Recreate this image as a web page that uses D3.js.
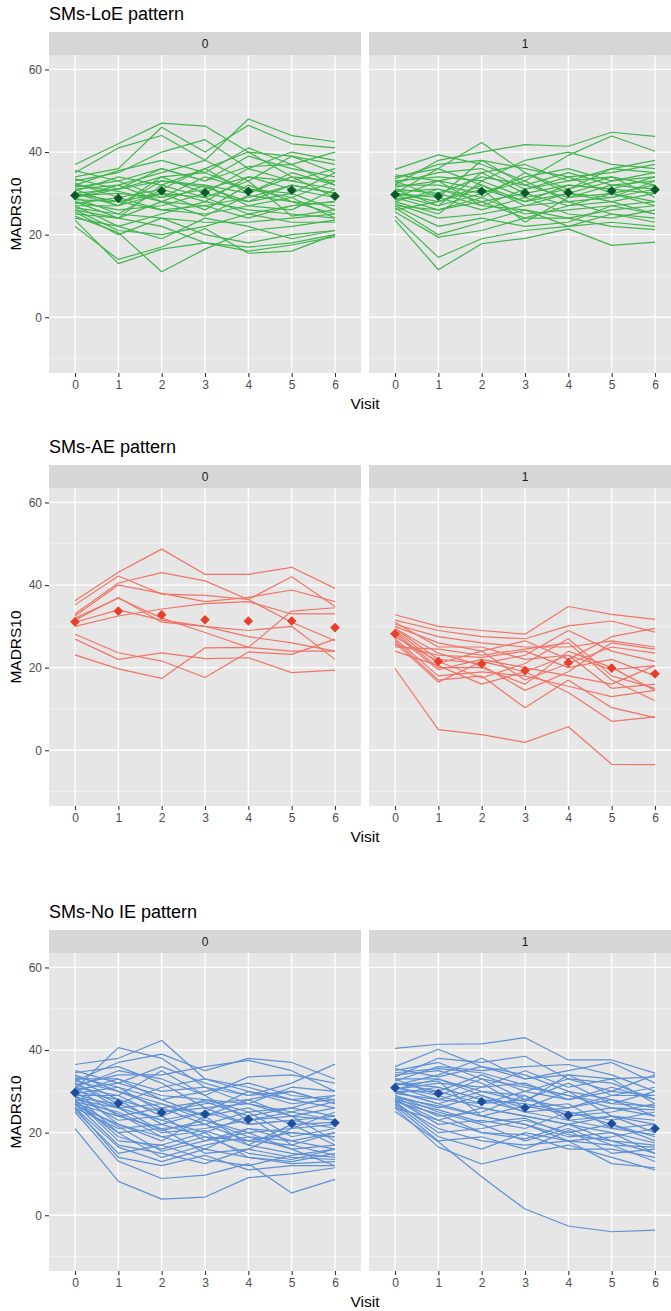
<!DOCTYPE html>
<html>
<head>
<meta charset="utf-8">
<script src="https://cdn.jsdelivr.net/npm/d3@7/dist/d3.min.js"></script>
<style>
  html, body { margin: 0; padding: 0; background: #ffffff; }
  svg { display: block; font-family: "Liberation Sans", Arial, Helvetica, sans-serif; }
</style>
</head>
<body>
<svg id="chart" width="671" height="1311"></svg>
<script>
// Visits on the x axis and the facet labels
const visits = [0, 1, 2, 3, 4, 5, 6];
const facetLabels = ["0", "1"];
const yTicks = [0, 20, 40, 60];
const yMinorTicks = [-10, 10, 30, 50];
const sectionTitles = ["SMs-LoE pattern", "SMs-AE pattern", "SMs-No IE pattern"];

// MADRS10 trajectories per subject, one row per subject (visits 0..6)
const loeGroup0 = [
  [37, 42, 47, 46.3, 40, 39, 35],
  [35, 41, 44, 38, 48, 44, 42.5],
  [34, 36, 46, 40, 46.5, 42, 41],
  [33, 35, 40, 43, 36, 40, 38],
  [32, 35.5, 38, 35, 41, 37, 40],
  [31.5, 33, 36, 33, 39, 36, 34],
  [31, 32, 35, 38, 33, 39, 37],
  [30.5, 34, 32, 36, 40, 34, 33],
  [30, 31, 34, 30, 36, 33, 31],
  [30, 27, 33, 32, 30, 35, 32],
  [29.5, 30, 29, 34, 31, 30, 35],
  [29, 25, 31, 28, 34, 31, 29],
  [29, 32, 28, 27, 29, 32, 30],
  [28.5, 28, 30, 26, 32, 28, 27],
  [28, 26, 27, 30, 28, 30, 26],
  [28, 24, 32, 29, 25, 27, 28],
  [27.5, 29, 26, 25, 27, 26, 31],
  [27, 22, 25, 28, 26, 25, 24],
  [26.5, 25, 24, 23, 23, 24, 25],
  [26, 21, 20, 22, 25, 23, 23],
  [25.5, 20, 24, 20, 18, 20, 21],
  [25, 24, 22, 18, 17, 18, 20],
  [24.5, 20.5, 11, 16.5, 21, 22, 23.5],
  [23.5, 13, 16.5, 18, 16, 17.5, 19.5],
  [22, 14, 17, 21.5, 15.5, 16, 20],
  [32, 30.5, 28, 32, 27, 29, 24],
  [31, 27, 30, 29, 33, 24.5, 26],
  [33.5, 31, 33, 31.5, 28, 32, 30],
  [30, 28, 26, 27, 24, 27, 28],
  [27, 27, 34, 35, 31, 29, 33],
  [29, 31, 36, 33, 36.5, 37, 32],
  [26, 24, 28, 24.5, 29.5, 28, 25],
  [35.5, 33, 29, 31, 34, 33, 36],
  [24, 22, 19, 24, 22, 19, 21],
  [32.5, 29, 31, 36, 30, 34, 29]
];
const loeGroup1 = [
  [32, 38, 40, 41.8, 41.4, 44.8, 43.8],
  [35.8, 39.3, 37, 33, 39.2, 43.9, 40.2],
  [34, 36, 42.3, 35, 31, 36, 38],
  [33.5, 37, 38, 36, 34, 35, 37],
  [33, 34, 33, 38, 40, 37, 36],
  [32.5, 35, 36, 31, 33, 34, 32],
  [32, 32, 30, 34, 36, 33, 35],
  [31.5, 33, 31, 28, 32, 31, 34],
  [31, 30, 34, 32, 29, 32, 33],
  [30.5, 31, 28, 30, 27, 30, 32],
  [30, 28, 32, 27, 30, 28, 30],
  [30, 29, 26, 29, 31, 34, 29],
  [29.5, 27, 30, 33, 28, 29, 31],
  [29, 26, 29, 25, 26, 27, 28],
  [28.5, 30, 27, 26, 24, 26, 27],
  [28, 25, 33, 29, 25, 24, 26],
  [27.5, 24, 25, 27, 28, 25, 24],
  [27, 22, 24, 22, 23, 27, 25],
  [26.5, 20, 23, 26, 22, 23, 22],
  [25.5, 19.4, 21, 24, 24, 22, 21.2],
  [24.5, 14.5, 19, 21, 22, 25, 23],
  [23.5, 11.5, 17.8, 19.1, 21.4, 17.4, 18.2],
  [26, 28, 31, 23, 29, 30, 27],
  [29, 33, 27, 31, 34, 30, 28],
  [31, 27, 35, 30, 32, 31, 30],
  [28, 31, 29, 35, 30, 29, 33],
  [33, 29, 38, 32, 35, 32, 31],
  [30, 36, 32, 28, 30, 33, 34],
  [27, 26, 28, 24, 27, 28, 25],
  [34.5, 33, 35, 37, 33, 36, 35]
];
const loeMean0 = [29.5, 28.8, 30.6, 30.2, 30.5, 30.8, 29.3];
const loeMean1 = [29.7, 29.3, 30.5, 30.1, 30.2, 30.6, 30.9];

const aeGroup0 = [
  [36.2, 43.1, 48.7, 42.6, 42.6, 44.3, 39.2],
  [35.2, 42.2, 37.8, 37.5, 36.5, 42, 34.8],
  [33, 40.5, 43, 41, 36.5, 31, 26.5],
  [32.5, 40, 38, 36, 37, 38.8, 36],
  [32, 36.8, 32, 28.5, 24.9, 33.7, 34.5],
  [31, 34, 31.5, 30, 29, 30, 22],
  [30, 32.5, 34.2, 35.5, 36, 33, 33],
  [28.1, 23.6, 21.6, 17.6, 23.8, 23.2, 26.9],
  [26.9, 22, 23.6, 22.2, 22.4, 18.8, 19.4],
  [23.1, 19.7, 17.4, 24.8, 24.9, 24, 24],
  [31.5, 37, 31, 30, 27.5, 26, 24]
];
const aeGroup1 = [
  [19.8, 5, 3.8, 1.9, 5.7, -3.4, -3.5],
  [32.8, 30, 29, 28.1, 34.8, 32.9, 31.7],
  [31.5, 29, 27.5, 27, 30.1, 31.3, 28.6],
  [30.5, 27.5, 26, 25, 25, 26.5, 25],
  [30, 26, 24, 26.5, 22, 27.5, 29.5],
  [29.5, 22, 21, 23, 29, 24, 21.5],
  [29, 21, 24, 17, 21, 25, 23.5],
  [28.5, 20, 20, 16, 24, 20, 14.5],
  [28, 19.5, 22, 20, 18, 16, 20.5],
  [27.5, 21.5, 17.5, 21, 27, 18, 15],
  [27, 18, 19, 18, 15.5, 13, 14.5],
  [26.5, 17, 18, 10.3, 17, 10.3, 7.9],
  [26, 16.5, 21.5, 19, 14, 7, 8.1],
  [25.5, 23, 22.5, 24, 20, 22, 18],
  [25, 24.5, 23, 24.5, 26, 17, 12],
  [31, 25, 25, 22, 23, 19.5, 20.5],
  [24, 20.5, 16, 19, 23, 15, 16],
  [29.5, 23.5, 20.5, 14.5, 19, 26, 24.5]
];
const aeMean0 = [31.1, 33.7, 32.8, 31.6, 31.3, 31.3, 29.7];
const aeMean1 = [28.2, 21.5, 20.9, 19.3, 21.2, 19.9, 18.5];

const noieGroup0 = [
  [21, 8.2, 3.9, 4.4, 9.1, 10, 11.5],
  [25, 13.1, 8.9, 9.7, 12.5, 5.4, 8.7],
  [26, 14, 12, 14.5, 11, 12, 12],
  [27, 17, 15, 12.5, 16, 14, 13.5],
  [28, 18, 17, 20, 14, 13, 15],
  [29, 20, 14, 17, 19, 16, 17],
  [30, 22, 19, 16, 21, 18, 16],
  [31, 24, 21, 22, 18, 20, 19],
  [32, 26, 23, 20, 24, 17, 20],
  [33, 28, 25, 26, 22, 23, 21],
  [34, 30, 27, 24, 26, 22, 22.5],
  [35, 32, 29, 28, 25, 26, 24],
  [36.5, 38, 42.3, 33, 30, 28, 29],
  [30.5, 40.6, 38, 31, 27, 24, 26],
  [32.5, 37, 39, 35, 38, 37, 33],
  [31.5, 34, 34, 36, 37.5, 35, 30],
  [30, 33, 30, 31, 29, 32, 36.6],
  [29.5, 31, 25, 27, 28, 30, 27],
  [29, 29, 35, 29, 23, 25, 23],
  [28.5, 27, 23, 25, 30, 27, 28],
  [28, 26, 27, 23, 20, 21, 25],
  [27.5, 25, 20, 21, 23, 24, 18],
  [27, 24, 26, 22, 25, 19, 21],
  [26.5, 22, 18, 24, 17, 15, 14],
  [26, 21, 22, 19, 15, 13.5, 16],
  [31, 29, 24, 28, 27, 25, 27.5],
  [33.5, 31, 28, 30, 32, 29, 28],
  [34.5, 36, 32, 26, 27, 31, 30],
  [32, 27, 31, 33, 31, 28, 26],
  [30, 28, 22, 25, 22, 23, 24],
  [29, 23, 24, 18, 21, 20, 19],
  [28, 19, 16, 19, 18, 17, 14.5],
  [27, 20, 21, 15, 16, 21, 22],
  [26, 16.5, 13, 16, 14, 12.5, 13],
  [25.5, 15, 17, 13.5, 12, 14.5, 16],
  [31, 35, 33, 29, 33.5, 34, 32],
  [32.5, 30, 26, 27.5, 24, 26, 29],
  [30.5, 32, 36, 32, 29, 30, 27],
  [29.5, 26, 20.5, 23, 19, 18, 20],
  [28.5, 24.5, 19, 20.5, 17, 22, 17],
  [33, 33, 28, 24, 28, 24, 23],
  [27.5, 21.5, 15.5, 18, 20, 16, 12]
];
const noieGroup1 = [
  [40.4, 41.4, 41.5, 43, 37.6, 37.6, 34.4],
  [25.1, 17.8, 9.3, 1.5, -2.6, -4.0, -3.6],
  [26, 16.5, 12.4, 15, 17, 14, 11],
  [27, 21, 18, 17, 18, 12.5, 11.5],
  [28, 23, 20, 19.5, 16, 16, 14],
  [29, 25, 22, 18, 21, 17, 13],
  [30, 27, 24, 22, 19, 20, 15],
  [31, 29, 26, 24, 22, 18, 17],
  [32, 31, 28, 27, 25, 22, 19],
  [33, 33, 30, 29, 23, 24, 20],
  [34, 35, 32, 26, 27, 21, 22],
  [35, 37, 33, 31, 29, 26, 24],
  [36, 40.2, 36, 34, 30, 28, 26],
  [33.5, 38, 37, 38.5, 33, 32, 28],
  [32.5, 36, 35, 36, 36.5, 34, 30],
  [31.5, 34, 38, 33, 35, 37, 32],
  [30.5, 32, 31, 35, 31, 33, 33.5],
  [30, 30, 34, 30, 28, 30, 29],
  [29.5, 28, 27, 28, 32, 27, 26.5],
  [29, 26, 29, 25, 26, 29, 31],
  [28.5, 24, 25, 29, 24, 25, 27],
  [28, 22, 23, 21, 25, 23, 25],
  [27.5, 20, 21, 23, 20, 22, 18],
  [27, 19, 16, 20, 18, 19, 21],
  [26.5, 18, 19, 16, 20.5, 15, 16],
  [26, 23, 26, 24, 22, 20, 17.5],
  [30.5, 33, 29, 26, 30, 24, 23],
  [31, 28, 31, 32, 28, 31, 28],
  [32, 30, 27, 30, 33, 30, 34],
  [34.5, 35.5, 34.5, 31.5, 29, 27, 30],
  [33, 29, 33, 28, 26, 28, 24],
  [29.5, 31, 28, 25, 23, 21, 19.5],
  [28.5, 26.5, 24, 22, 18, 17, 16.5],
  [27.5, 24.5, 20, 18.5, 22, 24, 22],
  [30, 27, 30, 27.5, 34, 33, 27],
  [31.5, 32.5, 24, 26.5, 24.5, 26, 25.5],
  [35.5, 33.5, 36, 33, 34, 29, 29],
  [28, 25.5, 22.5, 23.5, 19.5, 18, 15]
];
const noieMean0 = [29.7, 27.1, 24.9, 24.5, 23.2, 22.2, 22.4];
const noieMean1 = [30.9, 29.5, 27.5, 26.0, 24.2, 22.2, 21.0];

// Section setup: data plus colours for each pattern
const sections = [
  { title: sectionTitles[0], groups: [loeGroup0, loeGroup1], means: [loeMean0, loeMean1],
    lineColor: "#40b54c", meanColor: "#0b5a2a", stripTop: 32 },
  { title: sectionTitles[1], groups: [aeGroup0, aeGroup1], means: [aeMean0, aeMean1],
    lineColor: "#f07466", meanColor: "#e6402b", stripTop: 465 },
  { title: sectionTitles[2], groups: [noieGroup0, noieGroup1], means: [noieMean0, noieMean1],
    lineColor: "#5d8fd5", meanColor: "#1f4d9d", stripTop: 930 }
];

// Geometry of the faceted panels
const panelX = [[49, 361], [369, 681]];
const stripH = 23;
const panelH = 318;
const yDomain = [-13.5, 63.5];

const svg = d3.select("#chart");

const x = d3.scalePoint().domain(visits);
const diamond = d3.symbol().type(d3.symbolDiamond2).size(60);

sections.forEach(sec => {
  const g = svg.append("g");
  const top = sec.stripTop + stripH;
  const bottom = top + panelH;
  const y = d3.scaleLinear().domain(yDomain).range([bottom, top]);

  // Section title
  g.append("text")
    .attr("x", panelX[0][0])
    .attr("y", sec.stripTop - 12)
    .attr("font-size", 18)
    .attr("fill", "#000")
    .text(sec.title);

  panelX.forEach(([x0, x1], fi) => {
    const xs = x.copy().range([x0, x1]).padding(0.6);
    const p = g.append("g");

    // Strip
    p.append("rect").attr("x", x0).attr("y", sec.stripTop)
      .attr("width", x1 - x0).attr("height", stripH).attr("fill", "#d6d6d6");
    p.append("text").attr("x", (x0 + x1) / 2).attr("y", sec.stripTop + stripH / 2)
      .attr("dy", "0.35em").attr("text-anchor", "middle")
      .attr("font-size", 12).attr("fill", "#1a1a1a").text(facetLabels[fi]);

    // Panel background and grid
    p.append("rect").attr("x", x0).attr("y", top)
      .attr("width", x1 - x0).attr("height", panelH).attr("fill", "#e6e6e6");
    p.selectAll(".minor").data(yMinorTicks).join("line")
      .attr("x1", x0).attr("x2", x1)
      .attr("y1", d => y(d)).attr("y2", d => y(d))
      .attr("stroke", "#f4f4f4").attr("stroke-width", 0.7);
    p.selectAll(".majory").data(yTicks).join("line")
      .attr("x1", x0).attr("x2", x1)
      .attr("y1", d => y(d)).attr("y2", d => y(d))
      .attr("stroke", "#ffffff").attr("stroke-width", 1.3);
    p.selectAll(".majorx").data(visits).join("line")
      .attr("x1", d => xs(d)).attr("x2", d => xs(d))
      .attr("y1", top).attr("y2", bottom)
      .attr("stroke", "#ffffff").attr("stroke-width", 1.3);

    // Subject trajectories
    const line = d3.line().x((d, i) => xs(visits[i])).y(d => y(d));
    p.append("g").selectAll("path").data(sec.groups[fi]).join("path")
      .attr("d", line).attr("fill", "none")
      .attr("stroke", sec.lineColor).attr("stroke-width", 1.2)
      .attr("stroke-linejoin", "round");

    // Mean markers
    p.append("g").selectAll("path").data(sec.means[fi]).join("path")
      .attr("d", diamond)
      .attr("transform", (d, i) => `translate(${xs(visits[i])},${y(d)})`)
      .attr("fill", sec.meanColor);

    // x axis
    const xAxis = p.append("g").attr("transform", `translate(0,${bottom})`)
      .call(d3.axisBottom(xs).tickSize(4).tickPadding(3));
    xAxis.select(".domain").remove();
    xAxis.selectAll("line").attr("stroke", "#333").attr("stroke-width", 1.1);
    xAxis.selectAll("text").attr("fill", "#4d4d4d").attr("font-size", 12)
      .attr("font-family", "Liberation Sans, Arial, sans-serif");

    // y axis on the left panel only
    if (fi === 0) {
      const yAxis = p.append("g").attr("transform", `translate(${x0},0)`)
        .call(d3.axisLeft(y).tickValues(yTicks).tickSize(4).tickPadding(3));
      yAxis.select(".domain").remove();
      yAxis.selectAll("line").attr("stroke", "#333").attr("stroke-width", 1.1);
      yAxis.selectAll("text").attr("fill", "#4d4d4d").attr("font-size", 12)
        .attr("font-family", "Liberation Sans, Arial, sans-serif");
    }
  });

  // Axis titles
  g.append("text")
    .attr("transform", `translate(16,${(top + bottom) / 2}) rotate(-90)`)
    .attr("dy", "0.35em").attr("text-anchor", "middle")
    .attr("font-size", 15.5).attr("fill", "#000").text("MADRS10");
  g.append("text")
    .attr("x", (panelX[0][0] + panelX[1][1]) / 2).attr("y", bottom + 31)
    .attr("dy", "0.35em").attr("text-anchor", "middle")
    .attr("font-size", 15.5).attr("fill", "#000").text("Visit");
});
</script>
</body>
</html>
